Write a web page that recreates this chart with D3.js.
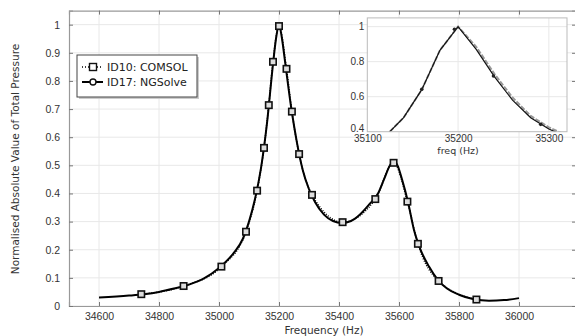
<!DOCTYPE html>
<html><head><meta charset="utf-8">
<script src="https://cdn.jsdelivr.net/npm/d3@7"></script>
<style>body{margin:0;background:#fff}svg{display:block;font-family:"DejaVu Sans",sans-serif}</style>
</head><body><svg id="c" width="575" height="336"></svg>
<script>
// NGSolve (solid) main curve
const ngFreq = [34600,34700,34750,34800,34850,34900,34950,35000,35050,35080,35100,35120,35140,35160,35180,35190,35200,35210,35220,35240,35260,35280,35300,35320,35350,35380,35410,35440,35470,35500,35530,35550,35570,35582,35595,35610,35630,35650,35670,35700,35730,35760,35800,35850,35900,35950,36000];
const ngVal  = [0.030,0.037,0.042,0.050,0.062,0.076,0.098,0.135,0.190,0.240,0.300,0.380,0.490,0.650,0.860,0.950,1.000,0.950,0.870,0.710,0.580,0.480,0.415,0.370,0.325,0.302,0.295,0.302,0.325,0.360,0.400,0.450,0.500,0.515,0.500,0.450,0.370,0.270,0.205,0.140,0.092,0.062,0.040,0.024,0.019,0.021,0.028];
// COMSOL (dotted, square markers)
const csFreq = [34741,34882,35008,35090,35127,35150,35166,35180,35200,35225,35243,35267,35310,35412,35521,35582,35628,35663,35732,35858];
const csVal  = [0.042,0.071,0.140,0.264,0.410,0.562,0.714,0.868,0.995,0.843,0.691,0.540,0.395,0.298,0.380,0.509,0.371,0.221,0.089,0.023];
// Inset series
const inFreq   = [35120,35140,35160,35180,35200,35220,35240,35260,35280,35300,35320];
const inNg     = [0.375,0.480,0.640,0.865,1.000,0.870,0.715,0.580,0.480,0.415,0.370];
const inCs     = [0.375,0.480,0.640,0.865,1.000,0.885,0.730,0.595,0.490,0.425,0.378];
const inMarkF  = [35160,35196,35239,35291];
const inMarkV  = [0.642,0.985,0.718,0.442];
// ticks
const xTicks = [34600,34800,35000,35200,35400,35600,35800,36000];
const yTicks = [0,0.1,0.2,0.3,0.4,0.5,0.6,0.7,0.8,0.9,1];
const inXTicks = [35100,35200,35300];
const inYTicks = [0.4,0.6,0.8,1];
const legendLabels = ["ID10: COMSOL","ID17: NGSolve"];
const xTitle = "Frequency (Hz)", yTitle = "Normalised Absolute Value of Total Pressure", inXTitle = "freq (Hz)";

const svg = d3.select("#c");
const L=69, R=579, T=10.6, B=306;
const x = d3.scaleLinear().domain([34500,36200]).range([L,R]);
const y = d3.scaleLinear().domain([0,1.05]).range([B,T]);
const txt="#333", gridC="#e8e8e8", axC="#999";

// grid
svg.append("g").selectAll("line").data(xTicks).join("line")
  .attr("x1",d=>x(d)).attr("x2",d=>x(d)).attr("y1",T).attr("y2",B).attr("stroke",gridC);
svg.append("g").selectAll("line").data(yTicks).join("line")
  .attr("x1",L).attr("x2",R).attr("y1",d=>y(d)).attr("y2",d=>y(d)).attr("stroke",gridC);

// axes
const gx = svg.append("g").attr("transform",`translate(0,${B})`)
  .call(d3.axisBottom(x).tickValues(xTicks).tickSize(-4).tickPadding(7).tickFormat(d3.format("d")));
const gxt = svg.append("g").attr("transform",`translate(0,${T})`)
  .call(d3.axisTop(x).tickValues(xTicks).tickSize(-4).tickFormat(""));
const gy = svg.append("g").attr("transform",`translate(${L},0)`)
  .call(d3.axisLeft(y).tickValues(yTicks).tickSize(-4).tickPadding(9).tickFormat(d=>d===0?"0":d===1?"1":d3.format(".1f")(d)));
const gyr = svg.append("g").attr("transform",`translate(${R-3},0)`)
  .call(d3.axisRight(y).tickValues(yTicks).tickSize(-4).tickFormat(""));
[gx,gxt,gy,gyr].forEach(g=>{
  g.select(".domain").attr("stroke",axC).attr("stroke-width",1.2);
  g.selectAll(".tick line").attr("stroke","#777");
  g.selectAll("text").attr("fill",txt).style("font-size","10.5px");
});

svg.append("text").attr("x",324).attr("y",333.5).attr("text-anchor","middle")
  .attr("fill",txt).style("font-size","10.5px").text(xTitle);
svg.append("text").attr("transform","translate(19,159) rotate(-90)").attr("text-anchor","middle")
  .attr("fill",txt).style("font-size","10.5px").text(yTitle);

// main curves
const ngData = ngFreq.map((f,i)=>[f,ngVal[i]]);
const csData = csFreq.map((f,i)=>[f,csVal[i]]);
const line = d3.line().x(d=>x(d[0])).y(d=>y(d[1])).curve(d3.curveMonotoneX);
svg.append("path").attr("d",line(ngData)).attr("fill","none").attr("stroke","#000").attr("stroke-width",2);
svg.append("path").attr("d",line(csData)).attr("fill","none").attr("stroke","#000").attr("stroke-width",1.5).attr("stroke-dasharray","1,1.5");
svg.append("g").selectAll("rect").data(csData).join("rect")
  .attr("x",d=>x(d[0])-3.2).attr("y",d=>y(d[1])-3.2).attr("width",6.4).attr("height",6.4)
  .attr("fill","#ddd").attr("stroke","#111").attr("stroke-width",1.6);

// inset
const IL=367.3, IR=567, IT=17.9, IB=131.7;
const ix = d3.scaleLinear().domain([35100,35320]).range([IL,IR]);
const iy = d3.scaleLinear().domain([0.4,1.05]).range([IB,IT]);
svg.append("rect").attr("x",IL).attr("y",IT).attr("width",IR-IL).attr("height",IB-IT).attr("fill","#fff");
svg.append("defs").append("clipPath").attr("id","ic").append("rect")
  .attr("x",IL).attr("y",IT).attr("width",IR-IL).attr("height",IB-IT);
svg.append("g").selectAll("line").data(inXTicks.slice(1)).join("line")
  .attr("x1",d=>ix(d)).attr("x2",d=>ix(d)).attr("y1",IT).attr("y2",IB).attr("stroke",gridC);
svg.append("g").selectAll("line").data(inYTicks.slice(1)).join("line")
  .attr("x1",IL).attr("x2",IR).attr("y1",d=>iy(d)).attr("y2",d=>iy(d)).attr("stroke",gridC);
const ig = svg.append("g").attr("clip-path","url(#ic)");
const iline = d3.line().x(d=>ix(d[0])).y(d=>iy(d[1]));
ig.append("path").attr("d",iline(inFreq.map((f,i)=>[f,inCs[i]]))).attr("fill","none")
  .attr("stroke","#999").attr("stroke-width",2).attr("stroke-dasharray","5,1.5");
ig.append("path").attr("d",iline(inFreq.map((f,i)=>[f,inNg[i]]))).attr("fill","none")
  .attr("stroke","#111").attr("stroke-width",1.2);
ig.selectAll("circle").data(inMarkF.map((f,i)=>[f,inMarkV[i]])).join("circle")
  .attr("cx",d=>ix(d[0])).attr("cy",d=>iy(d[1])).attr("r",1.8).attr("fill","#222");
svg.append("rect").attr("x",IL).attr("y",IT).attr("width",IR-IL).attr("height",IB-IT)
  .attr("fill","none").attr("stroke","#bbb").attr("stroke-width",1);
const ixa = svg.append("g").attr("transform",`translate(0,${IB})`)
  .call(d3.axisBottom(ix).tickValues(inXTicks).tickSize(0).tickPadding(3).tickFormat(d3.format("d")));
const iya = svg.append("g").attr("transform",`translate(${IL},0)`)
  .call(d3.axisLeft(iy).tickValues(inYTicks).tickSize(0).tickPadding(3).tickFormat(d=>d===1?"1":d3.format(".1f")(d)));
[ixa,iya].forEach(g=>{
  g.select(".domain").remove();
  g.selectAll("text").attr("fill",txt).style("font-size","10px");
});
iya.selectAll(".tick text").filter(d=>d===0.4).attr("dy","0em");
svg.append("text").attr("x",ix(35200)).attr("y",153.5).attr("text-anchor","middle")
  .attr("fill",txt).style("font-size","9.5px").text(inXTitle);

// legend
const lg = svg.append("g");
lg.append("rect").attr("x",79).attr("y",57).attr("width",120).attr("height",42).attr("fill","#ccc");
lg.append("rect").attr("x",77).attr("y",55).attr("width",120).attr("height",42).attr("fill","#fff").attr("stroke","#444").attr("stroke-width",1);
const ly=[67,82];
lg.append("line").attr("x1",82).attr("x2",103).attr("y1",ly[0]).attr("y2",ly[0]).attr("stroke","#000").attr("stroke-width",1.5).attr("stroke-dasharray","1,2");
lg.append("rect").attr("x",89.5).attr("y",ly[0]-3.5).attr("width",7).attr("height",7).attr("fill","#fff").attr("stroke","#111").attr("stroke-width",1.4);
lg.append("line").attr("x1",82).attr("x2",103).attr("y1",ly[1]).attr("y2",ly[1]).attr("stroke","#000").attr("stroke-width",2);
lg.append("circle").attr("cx",93).attr("cy",ly[1]).attr("r",3).attr("fill","#fff").attr("stroke","#111").attr("stroke-width",1.4);
lg.selectAll("text.l").data(legendLabels).join("text").attr("class","l")
  .attr("x",107).attr("y",(d,i)=>ly[i]+4).attr("fill","#222").style("font-size","11px").text(d=>d);
</script></body></html>
